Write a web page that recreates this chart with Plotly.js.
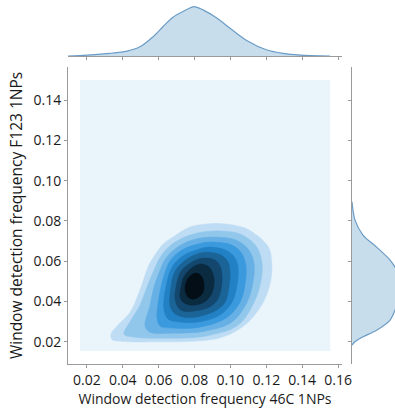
<!DOCTYPE html>
<html>
<head>
<meta charset="utf-8">
<script src="https://cdn.plot.ly/plotly-3.0.1.min.js"></script>
<style>html,body{margin:0;padding:0;background:#fff;}#chart{width:395px;height:409px;}</style>
</head>
<body>
<div id="chart"></div>
<script>
// ---- data ----
const xTicks = [0.02, 0.04, 0.06, 0.08, 0.10, 0.12, 0.14, 0.16];
const yTicks = [0.02, 0.04, 0.06, 0.08, 0.10, 0.12, 0.14];

// extent of the KDE evaluation grid (lowest filled level)
const gridX = [0.0162, 0.1556];
const gridY = [0.0155, 0.1500];

// contour outlines, outermost (level 1) to innermost (level 9)
const level1X = [0.0335, 0.037, 0.044, 0.0495, 0.0545, 0.0575, 0.062, 0.068, 0.0775, 0.087, 0.097, 0.108, 0.116, 0.1215, 0.123, 0.1225, 0.1185, 0.109, 0.096, 0.083, 0.061, 0.041, 0.034];
const level1Y = [0.0240, 0.0280, 0.0345, 0.0455, 0.0580, 0.0625, 0.0680, 0.0720, 0.0770, 0.0785, 0.0785, 0.0765, 0.0720, 0.0665, 0.0600, 0.0506, 0.0400, 0.0290, 0.0225, 0.0205, 0.0200, 0.0202, 0.0212];
const level2X = [0.0898, 0.1054, 0.1143, 0.1176, 0.1171, 0.1137, 0.1043, 0.0859, 0.0636, 0.0468, 0.0407, 0.0446, 0.0496, 0.0535, 0.0574, 0.0613, 0.0675, 0.0775];
const level2Y = [0.0750, 0.0735, 0.0675, 0.0596, 0.0506, 0.0407, 0.0283, 0.0228, 0.0218, 0.0223, 0.0238, 0.0308, 0.0382, 0.0472, 0.0556, 0.0626, 0.0685, 0.0730];
const level3X = [0.0898, 0.1031, 0.1104, 0.1132, 0.1126, 0.1093, 0.1009, 0.0859, 0.0675, 0.0552, 0.0524, 0.0552, 0.0574, 0.0608, 0.0641, 0.0697, 0.0786];
const level3Y = [0.0720, 0.0705, 0.0655, 0.0586, 0.0497, 0.0397, 0.0298, 0.0253, 0.0243, 0.0248, 0.0278, 0.0382, 0.0472, 0.0556, 0.0616, 0.0665, 0.0705];
const level4X = [0.0887, 0.1009, 0.1065, 0.1087, 0.1082, 0.1054, 0.0976, 0.0831, 0.0691, 0.0608, 0.0591, 0.0597, 0.0613, 0.0636, 0.0663, 0.0719, 0.0797];
const level4Y = [0.0695, 0.0680, 0.0636, 0.0576, 0.0487, 0.0397, 0.0318, 0.0273, 0.0268, 0.0278, 0.0318, 0.0392, 0.0472, 0.0546, 0.0601, 0.0650, 0.0680];
const level5X = [0.0875, 0.0976, 0.1026, 0.1043, 0.1037, 0.1009, 0.0942, 0.0820, 0.0719, 0.0652, 0.0630, 0.0630, 0.0641, 0.0658, 0.0686, 0.0742, 0.0808];
const level5Y = [0.0670, 0.0655, 0.0616, 0.0566, 0.0482, 0.0397, 0.0333, 0.0298, 0.0298, 0.0313, 0.0358, 0.0417, 0.0472, 0.0536, 0.0586, 0.0631, 0.0655];
const level6X = [0.0864, 0.0948, 0.0987, 0.0998, 0.0992, 0.0970, 0.0914, 0.0808, 0.0736, 0.0686, 0.0663, 0.0663, 0.0669, 0.0680, 0.0708, 0.0758, 0.0814];
const level6Y = [0.0645, 0.0631, 0.0596, 0.0546, 0.0472, 0.0397, 0.0353, 0.0323, 0.0323, 0.0343, 0.0382, 0.0427, 0.0472, 0.0526, 0.0571, 0.0611, 0.0636];
const level7X = [0.0853, 0.0914, 0.0942, 0.0953, 0.0948, 0.0926, 0.0881, 0.0797, 0.0736, 0.0708, 0.0691, 0.0697, 0.0708, 0.0730, 0.0797];
const level7Y = [0.0616, 0.0606, 0.0576, 0.0526, 0.0462, 0.0407, 0.0372, 0.0353, 0.0353, 0.0372, 0.0417, 0.0472, 0.0516, 0.0556, 0.0601];
const level8X = [0.0836, 0.0881, 0.0903, 0.0909, 0.0892, 0.0853, 0.0786, 0.0736, 0.0719, 0.0725, 0.0742, 0.0792];
const level8Y = [0.0586, 0.0571, 0.0536, 0.0492, 0.0432, 0.0397, 0.0382, 0.0397, 0.0427, 0.0472, 0.0526, 0.0571];
const level9X = [0.0814, 0.0842, 0.0853, 0.0842, 0.0797, 0.0764, 0.0747, 0.0758, 0.0781];
const level9Y = [0.0541, 0.0521, 0.0477, 0.0437, 0.0412, 0.0422, 0.0462, 0.0506, 0.0531];

// marginal densities
const topX = [0.0095, 0.0201, 0.0329, 0.0424, 0.0496, 0.0569, 0.0624, 0.0680, 0.0736, 0.0797, 0.0847, 0.0926, 0.0998, 0.1093, 0.1204, 0.1293, 0.1388, 0.1556];
const topDensity = [0, 0.65, 1.75, 3.2, 6.0, 12.5, 19.0, 25.1, 28.8, 32.0, 29.9, 24.5, 18.0, 9.9, 3.9, 1.75, 0.65, 0];
const rightY = [0.0184, 0.0200, 0.0225, 0.0258, 0.0308, 0.0357, 0.0457, 0.0541, 0.0606, 0.0670, 0.0730, 0.0804, 0.0854, 0.0895];
const rightDensity = [0, 1.95, 7.1, 16.0, 24.7, 27.9, 32.1, 29.9, 24.7, 16.0, 7.1, 1.95, 0.65, 0];

const xTitle = 'Window detection frequency 46C 1NPs';
const yTitle = 'Window detection frequency F123 1NPs';

// ---- styling ----
const bgColor = '#e9f4fb';
const levelColors = ['#beddf4', '#92c7ec', '#67b0e5', '#3b9add', '#2280c4', '#1a6498', '#13476d', '#0b2b41', '#040e16'];
const levels = [
  [level1X, level1Y], [level2X, level2Y], [level3X, level3Y], [level4X, level4Y], [level5X, level5Y],
  [level6X, level6Y], [level7X, level7Y], [level8X, level8Y], [level9X, level9Y]
];
const spineColor = '#9a9a9a';
const font = {family: 'Open Sans, Noto Sans, sans-serif', size: 14, color: '#1a1a1a'};
const yTitleFont = {family: 'Open Sans, Noto Sans, sans-serif', size: 15.5, color: '#1a1a1a'};

const traces = [];
traces.push({
  type: 'scatter', mode: 'lines', xaxis: 'x', yaxis: 'y',
  x: [gridX[0], gridX[1], gridX[1], gridX[0], gridX[0]],
  y: [gridY[0], gridY[0], gridY[1], gridY[1], gridY[0]],
  fill: 'toself', fillcolor: bgColor, line: {width: 0, color: bgColor}, hoverinfo: 'skip'
});
levels.forEach(function (lv, i) {
  const xs = lv[0].concat([lv[0][0]]);
  const ys = lv[1].concat([lv[1][0]]);
  traces.push({
    type: 'scatter', mode: 'lines', xaxis: 'x', yaxis: 'y', x: xs, y: ys,
    fill: 'toself', fillcolor: levelColors[i],
    line: {width: 0.5, color: levelColors[i], shape: 'spline', smoothing: 1},
    hoverinfo: 'skip'
  });
});
traces.push({
  type: 'scatter', mode: 'lines', xaxis: 'x2', yaxis: 'y2', x: topX, y: topDensity,
  fill: 'tozeroy', fillcolor: 'rgba(31,119,180,0.25)',
  line: {width: 1.2, color: '#6b9cc6', shape: 'spline', smoothing: 0.8}, hoverinfo: 'skip'
});
traces.push({
  type: 'scatter', mode: 'lines', xaxis: 'x3', yaxis: 'y3', x: rightDensity, y: rightY,
  fill: 'tozerox', fillcolor: 'rgba(31,119,180,0.25)',
  line: {width: 1.2, color: '#6b9cc6', shape: 'spline', smoothing: 0.8}, hoverinfo: 'skip'
});

const xRange = [0.0095, 0.1622];
const yRange = [0.009, 0.1564];
const axisCommon = {
  showline: true, linecolor: spineColor, linewidth: 1, ticks: 'outside', ticklen: 3,
  tickcolor: spineColor, tickwidth: 1, showgrid: false, zeroline: false, automargin: false,
  tickfont: font
};

const layout = {
  width: 395, height: 409,
  margin: {l: 68, r: 0, t: 0, b: 45},
  paper_bgcolor: '#fff', plot_bgcolor: '#fff',
  showlegend: false,
  font: font,
  xaxis: Object.assign({}, axisCommon, {
    domain: [0, 0.838], range: xRange, tickvals: xTicks, tickformat: '.2f', anchor: 'y',
    title: {text: xTitle, font: font, standoff: 6}
  }),
  yaxis: Object.assign({}, axisCommon, {
    domain: [0, 0.816], range: yRange, tickvals: yTicks, tickformat: '.2f', anchor: 'x',
    title: {text: yTitle, font: yTitleFont, standoff: 7}
  }),
  xaxis2: Object.assign({}, axisCommon, {
    domain: [0, 0.838], range: xRange, tickvals: xTicks, showticklabels: false, anchor: 'y2'
  }),
  yaxis2: {domain: [0.846, 1], range: [0, 36.3], visible: false, anchor: 'x2', fixedrange: true},
  xaxis3: {domain: [0.8685, 1], range: [0, 27.9], visible: false, anchor: 'y3'},
  yaxis3: Object.assign({}, axisCommon, {
    domain: [0, 0.816], range: yRange, tickvals: yTicks, showticklabels: false, anchor: 'x3'
  })
};

Plotly.newPlot('chart', traces, layout, {displayModeBar: false, staticPlot: true});
</script>
</body>
</html>
